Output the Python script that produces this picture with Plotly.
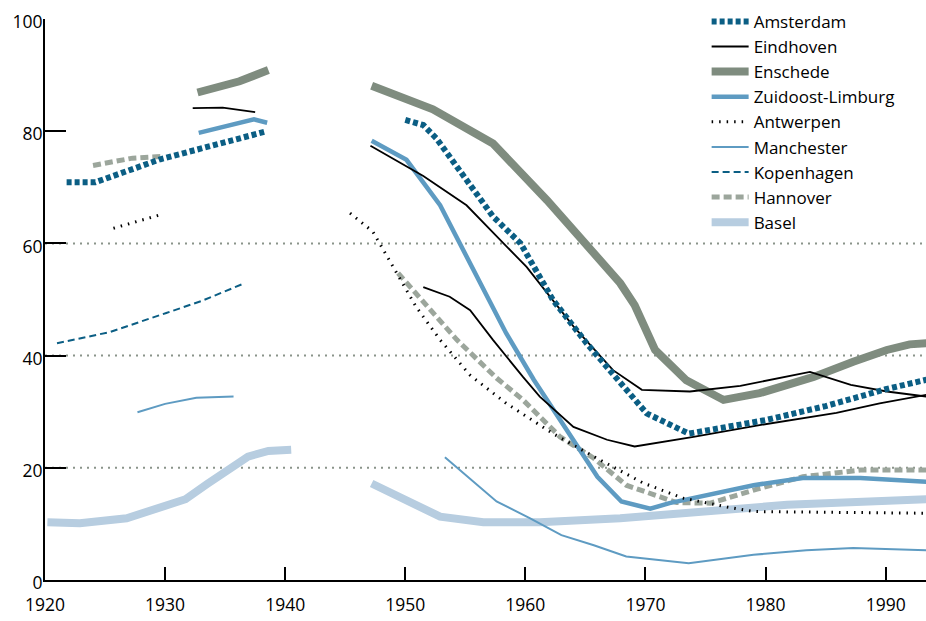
import plotly.graph_objects as go

# ---- data (years, share in %) ; None separates pre-war and post-war segments ----
ams_x = [1921.8, 1924.2, 1929.6, 1934.0, 1938.3, None,
         1950.0, 1951.5, 1952.6, 1955.1, 1957.3, 1959.6, 1962.3, 1965.1, 1967.3, 1970.1, 1973.6, 1980.0, 1985.0, 1990.0, 1993.4]
ams_y = [70.9, 70.9, 75.0, 77.4, 79.9, None,
         82.0, 81.1, 78.7, 71.3, 64.8, 60.0, 49.9, 42.2, 36.8, 29.7, 26.1, 28.5, 31.0, 34.0, 35.7]

ein_x = [1932.3, 1934.8, 1937.5, None,
         1947.1, 1951.5, 1955.1, 1960.1, 1964.0, 1967.3, 1969.7, 1973.7, 1977.9, 1981.5, 1983.7, 1987.1, 1990.1, 1993.4]
ein_y = [84.1, 84.2, 83.4, None,
         77.4, 72.0, 66.8, 55.8, 45.2, 37.4, 33.9, 33.6, 34.6, 36.2, 37.1, 34.8, 33.6, 32.7]

ein2_x = [1951.5, 1953.7, 1955.4, 1957.3, 1959.8, 1961.2, 1964.0, 1966.8, 1969.1, 1974.0, 1979.5, 1985.9, 1989.5, 1993.4]
ein2_y = [52.2, 50.5, 48.1, 42.8, 36.2, 32.7, 27.3, 25.0, 23.8, 25.5, 27.6, 29.8, 31.5, 33.0]

ens_x = [1932.7, 1936.2, 1938.6, None,
         1947.2, 1952.3, 1957.3, 1961.8, 1966.1, 1967.9, 1969.1, 1970.8, 1973.4, 1976.5, 1979.5, 1984.0, 1987.3, 1990.1, 1992.0, 1993.4]
ens_y = [86.9, 88.9, 90.9, None,
         88.1, 83.9, 77.8, 67.7, 57.3, 52.9, 49.0, 41.0, 35.6, 32.1, 33.3, 36.2, 38.9, 41.0, 42.0, 42.2]

zl_x = [1932.8, 1937.4, 1938.5, None,
        1947.2, 1950.1, 1952.9, 1955.7, 1958.4, 1960.7, 1962.0, 1964.0, 1966.0, 1968.0, 1970.4, 1972.0, 1979.0, 1983.1, 1987.9, 1993.4]
zl_y = [79.7, 82.1, 81.5, None,
        78.3, 74.9, 66.8, 55.3, 44.0, 35.7, 31.5, 25.0, 18.4, 14.0, 12.7, 13.7, 16.9, 18.2, 18.2, 17.5]

ant_x = [1925.7, 1929.6, None,
         1945.4, 1947.3, 1949.0, 1950.9, 1952.9, 1955.4, 1958.4, 1962.3, 1965.7, 1969.8, 1973.1, 1976.8, 1979.0, 1993.4]
ant_y = [62.7, 65.1, None,
         65.4, 62.1, 55.8, 48.7, 42.8, 36.5, 31.5, 26.1, 22.0, 17.3, 14.6, 13.0, 12.2, 11.9]

man_x = [1927.7, 1930.0, 1932.6, 1935.7, None,
         1953.3, 1957.6, 1960.4, 1963.0, 1965.7, 1968.4, 1973.6, 1979.0, 1983.4, 1987.3, 1993.4]
man_y = [29.9, 31.4, 32.5, 32.7, None,
         21.9, 14.0, 11.0, 8.0, 6.2, 4.2, 3.0, 4.5, 5.3, 5.7, 5.3]

kop_x = [1921.0, 1925.4, 1930.1, 1933.0, 1936.5]
kop_y = [42.2, 44.2, 47.6, 49.7, 52.8]

han_x = [1924.0, 1927.3, 1929.8, None,
         1949.4, 1951.5, 1954.3, 1957.6, 1959.8, 1962.9, 1965.7, 1968.4, 1972.6, 1975.4, 1979.3, 1983.1, 1987.9, 1993.4]
han_y = [73.9, 75.2, 75.5, None,
         54.7, 49.6, 42.8, 36.0, 32.1, 25.5, 21.7, 16.9, 13.8, 13.7, 16.2, 18.4, 19.6, 19.6]

bas_x = [1920.2, 1922.9, 1926.8, 1929.3, 1931.7, 1933.5, 1935.4, 1936.9, 1938.6, 1940.5, None,
         1947.2, 1950.1, 1952.9, 1956.5, 1961.2, 1967.9, 1981.8, 1993.4]
bas_y = [10.3, 10.1, 11.0, 12.8, 14.4, 17.1, 19.9, 22.0, 23.0, 23.2, None,
         17.2, 14.3, 11.3, 10.3, 10.3, 11.0, 13.4, 14.4]

x_ticks = [1920, 1930, 1940, 1950, 1960, 1970, 1980, 1990]
y_ticks = [0, 20, 40, 60, 80, 100]
grid_vals = [20, 40, 60]

DARK = "#0b5e84"
MID = "#5e9bc2"
GREY = "#7f8c7f"
LGREY = "#9ca69c"
LBLUE = "#b7cde0"

fig = go.Figure()

def add(x, y, name, color, width, dash="solid", show=True, group=None):
    fig.add_trace(go.Scatter(
        x=x, y=y, name=name, mode="lines", connectgaps=False,
        line=dict(color=color, width=width, dash=dash),
        showlegend=show, legendgroup=group or name, hoverinfo="skip"))

# draw order: light/thick first, dark thin last
add(bas_x, bas_y, "Basel", LBLUE, 8)
add(ens_x, ens_y, "Enschede", GREY, 8)
add(han_x, han_y, "Hannover", LGREY, 5, "8px,4px")
add(zl_x, zl_y, "Zuidoost-Limburg", MID, 4.5)
add(man_x, man_y, "Manchester", MID, 2)
add(kop_x, kop_y, "Kopenhagen", DARK, 2, "7px,4px")
add(ein_x, ein_y, "Eindhoven", "black", 1.8)
add(ein2_x, ein2_y, "Eindhoven", "black", 1.8, show=False, group="Eindhoven")
add(ant_x, ant_y, "Antwerpen", "black", 3, "1.5px,6px")
add(ams_x, ams_y, "Amsterdam", DARK, 6, "5px,3px")

# legend order as in the reference
order = ["Amsterdam", "Eindhoven", "Enschede", "Zuidoost-Limburg", "Antwerpen",
         "Manchester", "Kopenhagen", "Hannover", "Basel"]
for tr in fig.data:
    if tr.showlegend is not False:
        tr.legendrank = order.index(tr.name) + 1

for g in grid_vals:
    fig.add_shape(type="line", xref="paper", x0=0, x1=1, yref="y", y0=g, y1=g,
                  line=dict(color="#8a948a", width=2, dash="2px,5px"), layer="below")

FONT = "Open Sans"
fig.update_layout(
    width=926, height=621,
    margin=dict(l=45, r=0, t=19, b=41, autoexpand=False),
    paper_bgcolor="white", plot_bgcolor="white",
    font=dict(family=FONT, size=17, color="black"),
    showlegend=True,
    legend=dict(x=0.751, xanchor="left", y=1.027, yanchor="top", itemwidth=37,
                bgcolor="rgba(0,0,0,0)", font=dict(size=17, family=FONT),
                traceorder="normal", tracegroupgap=0),
    xaxis=dict(range=[1920, 1993.36], tickvals=x_ticks, ticktext=[str(v) for v in x_ticks],
               showgrid=False, zeroline=False, showline=True, linecolor="black", linewidth=2,
               ticks="inside", ticklen=13, tickwidth=2, tickcolor="black", automargin=False,
               tickfont=dict(size=17.5, family=FONT), ticklabelstandoff=8),
    yaxis=dict(range=[0, 100], tickvals=y_ticks, ticktext=[str(v) for v in y_ticks],
               showgrid=False, zeroline=False, showline=True, linecolor="black", linewidth=2,
               ticks="inside", ticklen=21, tickwidth=2, tickcolor="black", automargin=False,
               tickfont=dict(size=17.5, family=FONT), ticklabelstandoff=-3, ticklabelshift=3),
)

fig.write_html(
    "out.html",
    config={"displayModeBar": False},
    post_script="document.body.style.margin='0';document.body.style.overflow='hidden';",
)
